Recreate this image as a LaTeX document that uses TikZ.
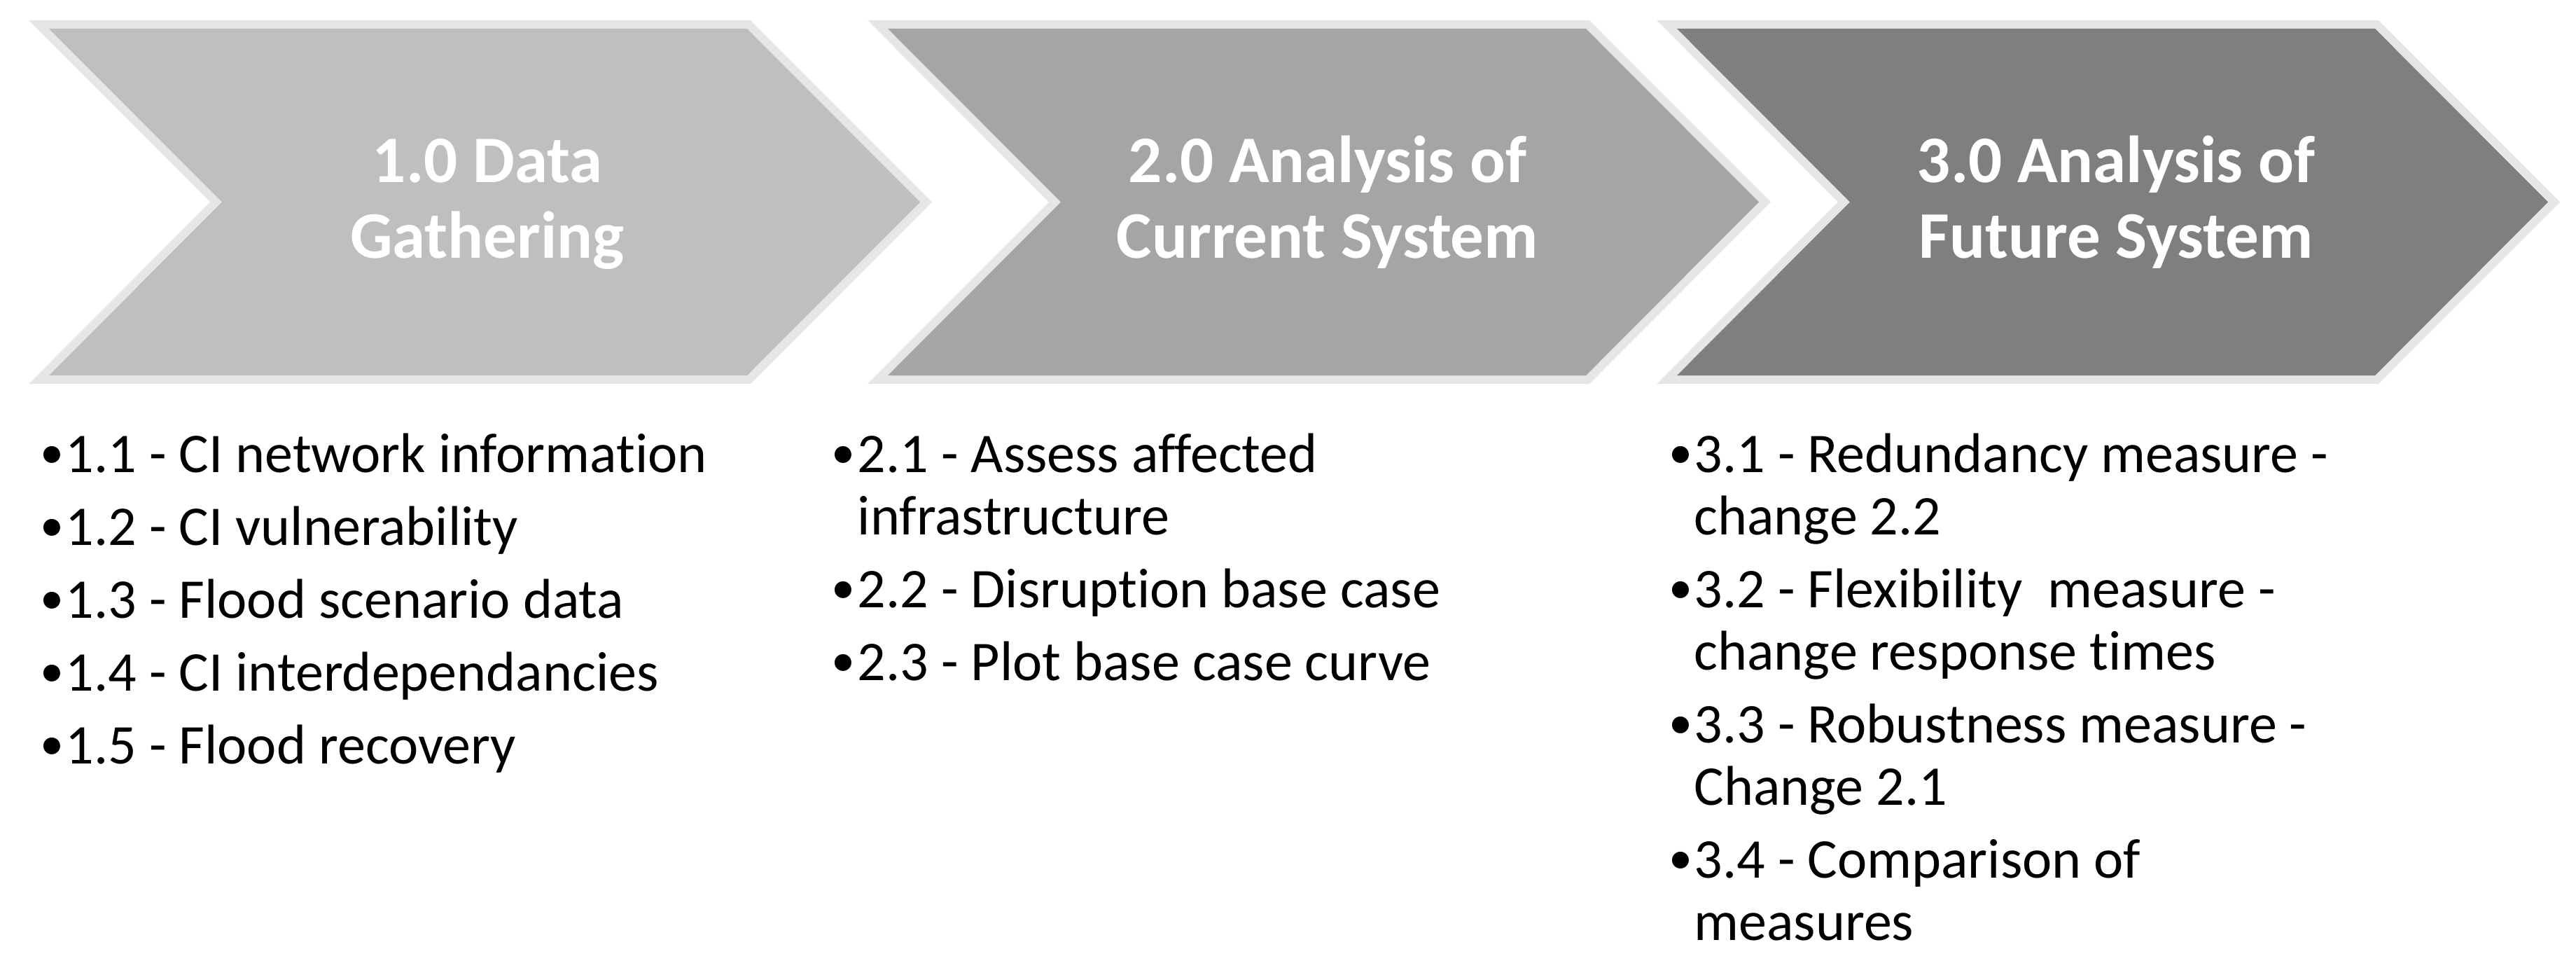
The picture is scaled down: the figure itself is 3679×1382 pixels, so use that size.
\documentclass[tikz,border=0pt]{standalone}
\usepackage{fontspec}
\setmainfont[Ligatures={TeX,NoCommon}]{Carlito}
\definecolor{cA}{HTML}{BFBFBF}
\definecolor{cB}{HTML}{A5A5A5}
\definecolor{cC}{HTML}{7F7F7F}
\definecolor{bord}{HTML}{E6E6E6}
\tikzset{
  chev/.style={preaction={draw=bord, line width=0.24cm, line join=miter}},
  title/.style={anchor=base, inner sep=0pt, text=white, font=\fontsize{0.95cm}{1.07cm}\selectfont\bfseries},
  item/.style={anchor=base west, inner sep=0pt, font=\fontsize{0.8cm}{0.89cm}\selectfont},
  bul/.style={anchor=base, inner sep=0pt, font=\fontsize{0.68cm}{0.8cm}\selectfont},
}
\begin{document}
\begin{tikzpicture}[x=0.01cm, y=-0.01cm]
\useasboundingbox (0,0) rectangle (3679,1382);
\fill[white] (0,0) rectangle (3679,1382);
% chevrons
\fill[cA, chev] (70,41) -- (1067,41) -- (1314,288.5) -- (1067,536) -- (70,536) -- (317,288.5) -- cycle;
\fill[cB, chev] (1268,41) -- (2265,41) -- (2512,288.5) -- (2265,536) -- (1268,536) -- (1515,288.5) -- cycle;
\fill[cC, chev] (2395,41) -- (3392,41) -- (3639,288.5) -- (3392,536) -- (2395,536) -- (2642,288.5) -- cycle;
% titles
\node[title] (t1a) at (696,261) {1.0 Data};
\node[title] (t1b) at (696,368) {Gathering};
\node[title] (t2a) at (1896,261) {2.0 Analysis of};
\node[title] (t2b) at (1896,368) {Current System};
\node[title] (t3a) at (3022,261) {3.0 Analysis of};
\node[title] (t3b) at (3022,368) {Future System};
% column 1
\node[bul] (b11) at (74,668) {•};
\node[item] (i11) at (93,674) {1.1 - CI network information};
\node[bul] (b12) at (74,772) {•};
\node[item] (i12) at (93,778) {1.2 - CI vulnerability};
\node[bul] (b13) at (74,876) {•};
\node[item] (i13) at (93,882) {1.3 - Flood scenario data};
\node[bul] (b14) at (74,980) {•};
\node[item] (i14) at (93,986) {1.4 - CI interdependancies};
\node[bul] (b15) at (74,1084) {•};
\node[item] (i15) at (93,1090) {1.5 - Flood recovery};
% column 2
\node[bul] (b21) at (1204,668) {•};
\node[item] (i21) at (1224,674) {2.1 - Assess affected};
\node[item] (i21b) at (1224,763) {infrastructure};
\node[bul] (b22) at (1204,861) {•};
\node[item] (i22) at (1224,867) {2.2 - Disruption base case};
\node[bul] (b23) at (1204,965) {•};
\node[item] (i23) at (1224,971) {2.3 - Plot base case curve};
% column 3
\node[bul] (b31) at (2400,668) {•};
\node[item] (i31) at (2419,674) {3.1 - Redundancy measure -};
\node[item] (i31b) at (2419,763) {change 2.2};
\node[bul] (b32) at (2400,861) {•};
\node[item] (i32) at (2419,867) {3.2 - Flexibility~ measure -};
\node[item] (i32b) at (2419,956) {change response times};
\node[bul] (b33) at (2400,1054) {•};
\node[item] (i33) at (2419,1060) {3.3 - Robustness measure -};
\node[item] (i33b) at (2419,1149) {Change 2.1};
\node[bul] (b34) at (2400,1247) {•};
\node[item] (i34) at (2419,1253) {3.4 - Comparison of};
\node[item] (i34b) at (2419,1342) {measures};
\end{tikzpicture}
\end{document}
